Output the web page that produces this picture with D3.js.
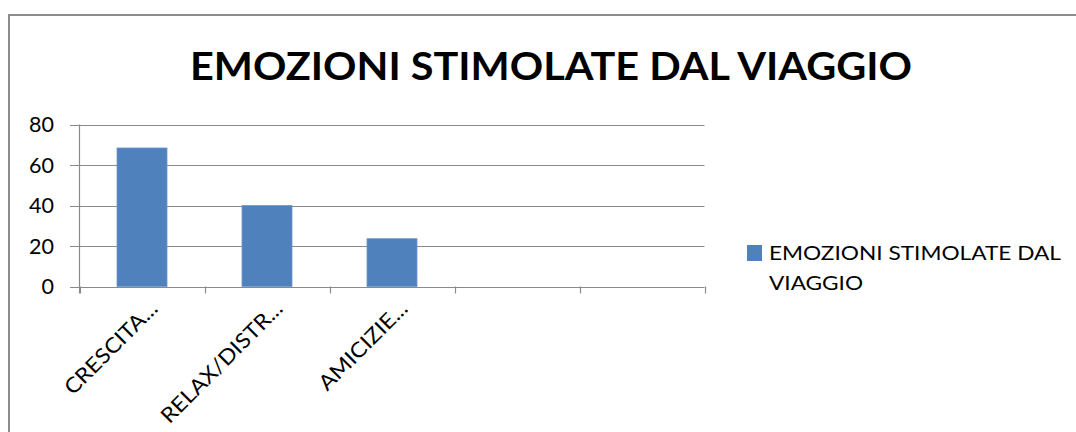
<!DOCTYPE html>
<html><head><meta charset="utf-8">
<script src="https://cdn.jsdelivr.net/npm/d3@7"></script>
<style>html,body{margin:0;padding:0;background:#fff;} svg{display:block;}</style>
</head><body>
<svg id="c" width="1076" height="432"></svg>
<script>
const categories = ["CRESCITA...", "RELAX/DISTR...", "AMICIZIE...", "", ""];
const values = [68.4, 40, 23.6, null, null];
const yTicks = [0, 20, 40, 60, 80];
const seriesName = "EMOZIONI STIMOLATE DAL VIAGGIO";
const titleText = "EMOZIONI STIMOLATE DAL VIAGGIO";

const svg = d3.select("#c");
const font = "Lato, 'Open Sans', sans-serif";
const grid = "#8a8a8a";

// chart frame
svg.append("path").attr("d", "M9,432 V15 H1076")
  .attr("fill", "none").attr("stroke", "#8c8c8c").attr("stroke-width", 2);

// title
svg.append("text").attr("x", 551).attr("y", 80).attr("text-anchor", "middle")
  .attr("font-family", font).attr("font-weight", "bold").attr("font-size", 39)
  .attr("fill", "#000").attr("textLength", 722).attr("lengthAdjust", "spacingAndGlyphs")
  .text(titleText);

const x = d3.scaleBand().domain(d3.range(categories.length)).range([79.5, 704.5])
  .paddingInner(0.6).paddingOuter(0.3);
const y = d3.scaleLinear().domain([0, 80]).range([286.5, 124.5]);

// gridlines + y ticks
svg.append("g").selectAll("line").data(yTicks).join("line")
  .attr("x1", 70).attr("x2", 704.5)
  .attr("y1", d => Math.round(y(d)) + 0.5).attr("y2", d => Math.round(y(d)) + 0.5)
  .attr("stroke", grid).attr("stroke-width", 1.2);

svg.append("g").selectAll("text").data(yTicks).join("text")
  .attr("x", 54).attr("y", d => y(d)).attr("dy", "0.36em").attr("text-anchor", "end")
  .attr("font-family", font).attr("font-size", 21.5).attr("fill", "#000")
  .text(d => d);

// y axis line
svg.append("line").attr("x1", 79.5).attr("x2", 79.5).attr("y1", y(80)).attr("y2", 293.5)
  .attr("stroke", grid).attr("stroke-width", 1.2);

// category boundary ticks
const step = x.step();
const bounds = d3.range(categories.length + 1).map(i => x.range()[0] + i * step);
svg.append("g").selectAll("line").data(bounds).join("line")
  .attr("x1", d => Math.round(d) + 0.5).attr("x2", d => Math.round(d) + 0.5)
  .attr("y1", y(0)).attr("y2", 293.5)
  .attr("stroke", grid).attr("stroke-width", 1.2);

// bars
svg.append("g").selectAll("rect").data(values.map((v, i) => ({v, i})).filter(d => d.v != null)).join("rect")
  .attr("x", d => x(d.i)).attr("width", x.bandwidth())
  .attr("y", d => y(d.v)).attr("height", d => y(0) - y(d.v))
  .attr("fill", "#4f81bd").attr("stroke", "#6f97c9").attr("stroke-width", 0.8);

// category labels
svg.append("g").selectAll("text").data(categories.map((c, i) => ({c, i}))).join("text")
  .attr("transform", d => `translate(${x(d.i) + x.bandwidth() / 2 + 17},310) rotate(-45)`)
  .attr("text-anchor", "end")
  .attr("font-family", font).attr("font-size", 21).attr("fill", "#000")
  .text(d => d.c)
  .each(function(d) {
    if (d.c) {
      const L = this.getComputedTextLength();
      d3.select(this).attr("textLength", L * 1.1).attr("lengthAdjust", "spacingAndGlyphs");
    }
  });

// legend
svg.append("rect").attr("x", 747).attr("y", 245).attr("width", 15).attr("height", 16)
  .attr("fill", "#4f81bd");
const words = seriesName.split(" ");
const lg = svg.append("text").attr("font-family", font).attr("font-size", 18.5).attr("fill", "#000");
lg.append("tspan").attr("x", 769).attr("y", 260).attr("textLength", 292)
  .attr("lengthAdjust", "spacingAndGlyphs").text(words.slice(0, 3).join(" "));
lg.append("tspan").attr("x", 769).attr("y", 290).attr("textLength", 94)
  .attr("lengthAdjust", "spacingAndGlyphs").text(words.slice(3).join(" "));
</script>
</body></html>
